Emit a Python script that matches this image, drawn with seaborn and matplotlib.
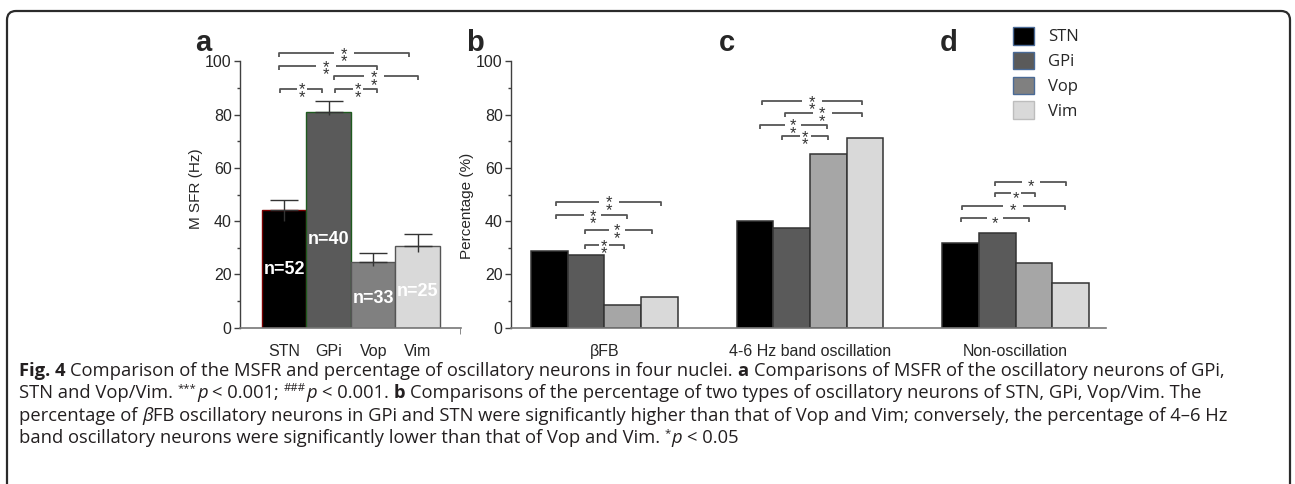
import numpy as np
import pandas as pd
import matplotlib
matplotlib.use('Agg')
import matplotlib.pyplot as plt
import seaborn as sns
from matplotlib.patches import Patch, FancyBboxPatch
from matplotlib.transforms import IdentityTransform

# data
nuclei = ['STN', 'GPi', 'Vop', 'Vim']
msfr = [44.1, 81.0, 24.5, 30.7]
msfr_err_hi = [4.0, 4.0, 3.7, 4.4]
msfr_err_lo = [4.0, 1.0, 1.2, 2.3]
n_cells = [52, 40, 33, 25]

groups = ['βFB', '4-6 Hz band oscillation', 'Non-oscillation']
pct_bfb = [28.7, 27.3, 8.6, 11.4]
pct_46hz = [39.9, 37.4, 65.2, 71.1]
pct_non = [31.7, 35.4, 24.2, 16.9]

# significance brackets: (from bar, to bar, star x, y, n stars)
sig_a = [(-0.11, 2.80, 1.35, 103.2, 2), (-0.11, 2.08, 0.93, 98.3, 2),
         (1.11, 3.00, 2.01, 94.4, 2), (-0.09, 0.84, 0.41, 89.8, 2),
         (1.13, 2.08, 1.65, 89.8, 2)]
# (group, from bar, to bar, star x, y, n stars) - bar units inside the group
sig_bd = [(0, 0.17, 3.05, 1.62, 47.3, 2), (0, 0.19, 2.12, 1.19, 42.3, 2),
          (0, 0.98, 2.79, 1.84, 36.7, 2), (0, 0.98, 2.03, 1.49, 31.0, 2),
          (1, 0.18, 2.92, 1.55, 85.1, 2), (1, 0.83, 2.92, 1.84, 80.8, 2),
          (1, 0.13, 1.97, 1.04, 76.2, 2), (1, 0.74, 1.99, 1.37, 72.0, 2),
          (2, 0.93, 2.88, 1.92, 54.8, 1), (2, 0.93, 2.03, 1.50, 50.4, 1),
          (2, 0.03, 2.86, 1.43, 45.8, 1), (2, 0.02, 1.87, 0.93, 41.2, 1)]

n_label_y = [22, 33, 11, 13.7]

# caption runs: (text, style, space after)
caption = [
    [('Fig. 4', 'b', True),
     ('Comparison of the MSFR and percentage of oscillatory neurons in four nuclei.', 'n', True),
     ('a', 'b', True),
     ('Comparisons of MSFR of the oscillatory neurons of GPi,', 'n', False)],
    [('STN and Vop/Vim.', 'n', True), ('***', 'sup', False), ('p', 'i', True),
     ('< 0.001;', 'n', True), ('###', 'sup', False), ('p', 'i', True),
     ('< 0.001.', 'n', True), ('b', 'b', True),
     ('Comparisons of the percentage of two types of oscillatory neurons of STN, GPi, Vop/Vim. The', 'n', False)],
    [('percentage of', 'n', True), ('β', 'i', False),
     ('FB oscillatory neurons in GPi and STN were significantly higher than that of Vop and Vim; conversely, the percentage of 4–6 Hz', 'n', False)],
    [('band oscillatory neurons were significantly lower than that of Vop and Vim.', 'n', True),
     ('*', 'sup', False), ('p', 'i', True), ('< 0.05', 'n', False)],
]

colors_a = ['#000000', '#5a5a5a', '#808080', '#d9d9d9']
edges_a = ['#7a0000', '#1f5a1f', '#555555', '#555555']
colors_bd = ['#000000', '#5a5a5a', '#a6a6a6', '#d9d9d9']
legend_colors = ['#000000', '#5a5a5a', '#808080', '#d9d9d9']
legend_edges = ['#4a6a96', '#4a6a96', '#4a6a96', '#bdbdbd']

sns.set_style('white')
plt.rcParams['font.family'] = ['Liberation Sans', 'DejaVu Sans']

W, H = 1295, 484
fig = plt.figure(figsize=(W / 100, H / 100), dpi=100)

y0_px, y100_px = 327.6, 61.5
bottom = (H - y0_px) / H
height = (y0_px - y100_px) / H
ax_a = fig.add_axes([240 / W, bottom, 221 / W, height])
ax_b = fig.add_axes([511 / W, bottom, 594.7 / W, height])

line_c = '#555555'

# ---- panel a ----
sns.barplot(x=nuclei, y=msfr, hue=nuclei, palette=colors_a, width=1,
            legend=False, linewidth=1, ax=ax_a)
for cont, ec in zip(ax_a.containers, edges_a):
    for p in cont:
        p.set_edgecolor(ec)
xs = np.arange(len(nuclei))
ax_a.errorbar(xs, msfr, yerr=[np.zeros(4), msfr_err_hi], fmt='none',
              ecolor='#333333', elinewidth=1, capsize=10, capthick=1)
ax_a.errorbar(xs, msfr, yerr=[msfr_err_lo, np.zeros(4)], fmt='none',
              ecolor='#333333', elinewidth=1, capsize=0)
for i, (n, yy) in enumerate(zip(n_cells, n_label_y)):
    ax_a.text(i, yy, f'n={n}', color='white', ha='center', va='center',
              fontsize=13, fontweight='bold')
ax_a.set_xlim(-0.994, 3.972)
ax_a.set_xticks([3.96], minor=True)
ax_a.tick_params(axis='x', which='minor', bottom=True, length=4,
                 color='#777777')
ax_a.set_ylabel('M SFR (Hz)', fontsize=11)
ax_a.yaxis.set_label_coords(-0.167, 0.523)

# ---- panels b-d ----
df = pd.DataFrame({'group': np.repeat(groups, 4),
                   'nucleus': nuclei * 3,
                   'pct': pct_bfb + pct_46hz + pct_non})
bar_w = 0.713
sns.barplot(data=df, x='group', y='pct', hue='nucleus', palette=colors_bd,
            width=bar_w, edgecolor='#333333', linewidth=1.1, legend=False,
            ax=ax_b)
ax_b.set_xlim(-0.4536, 2.438)
ax_b.set_ylabel('Percentage (%)', fontsize=11)
ax_b.yaxis.set_label_coords(-0.0622, 0.458)

for ax in (ax_a, ax_b):
    ax.set_xlabel('')
    ax.set_ylim(0, 100)
    ax.set_yticks(np.arange(0, 101, 20))
    ax.set_yticks(np.arange(10, 100, 20), minor=True)
    ax.tick_params(axis='y', which='major', left=True, length=4, width=1,
                   color='#404040', labelsize=11.5, pad=2)
    ax.tick_params(axis='y', which='minor', left=True, length=2.5, width=1,
                   color='#404040')
    ax.tick_params(axis='x', which='major', length=0, pad=12, labelsize=11.5)
    for s in ('top', 'right'):
        ax.spines[s].set_visible(False)
    ax.spines['left'].set_color('#404040')
    ax.spines['bottom'].set_color('#777777')
    ax.spines['left'].set_linewidth(1)
    ax.spines['bottom'].set_linewidth(1.2)

star_fs = 12
star_px = star_fs * 100 / 72


def bracket(ax, x1, x2, xs_, y, nstar, ppu):
    tick = 4 / 2.66
    length_px = (x2 - x1) * ppu
    gap = min(10, max(5, 0.12 * length_px)) / ppu
    kw = dict(color=line_c, lw=1.3, clip_on=False, solid_capstyle='butt')
    ax.plot([x1, x1, xs_ - gap], [y - tick, y, y], **kw)
    ax.plot([xs_ + gap, x2, x2], [y, y, y - tick], **kw)
    # bottom star a little below the line, second one stacked above
    drop = 0 if nstar == 1 else 3.8
    ax.annotate('\n'.join(['*'] * nstar), xy=(xs_, y),
                xytext=(0, -drop - 0.58 * star_px),
                textcoords='offset pixels', ha='center', va='baseline',
                fontsize=star_fs, linespacing=0.4, color='#333333',
                annotation_clip=False)


for x1, x2, xs_, y, ns in sig_a:
    bracket(ax_a, x1, x2, xs_, y, ns, 44.5)

bw = bar_w / 4
for g, u1, u2, us, y, ns in sig_bd:
    conv = lambda u: g + (u - 1.5) * bw
    bracket(ax_b, conv(u1), conv(u2), conv(us), y, ns, 205.7)

# panel letters
for lab, xp in zip('abcd', [195, 466, 719, 940]):
    fig.text(xp / W, 1 - 51 / H, lab, fontsize=21, fontweight='bold',
             va='baseline', ha='left')

# legend
handles = [Patch(facecolor=c, edgecolor=e, linewidth=1)
           for c, e in zip(legend_colors, legend_edges)]
fig.legend(handles, nuclei, loc='upper left',
           bbox_to_anchor=(1013 / W, 1 - 27 / H), frameon=False,
           handlelength=1.25, handleheight=1.25, labelspacing=0.38,
           handletextpad=0.85, borderpad=0, borderaxespad=0,
           prop={'family': 'Open Sans', 'size': 12})

# caption, written run by run so bold / italic / superscript parts line up
cap_fs = 13.25
cap_px = cap_fs * 100 / 72
cap_c = '#231f20'
rend = fig.canvas.get_renderer()
probe1 = fig.text(0, 0, 'x x', family='Open Sans', fontsize=cap_fs)
probe2 = fig.text(0, 0, 'xx', family='Open Sans', fontsize=cap_fs)
space_px = (probe1.get_window_extent(rend).width
            - probe2.get_window_extent(rend).width)
probe1.remove()
probe2.remove()

for i, runs in enumerate(caption):
    base = 376 + 22.4 * i
    x = 19
    for s, kind, sp in runs:
        kw = dict(family='Open Sans', color=cap_c, fontsize=cap_fs,
                  va='baseline', ha='left')
        lift = 0
        if kind == 'b':
            kw['fontweight'] = 'bold'
        elif kind == 'i':
            kw['style'] = 'italic'
        elif kind == 'sup':
            kw['fontsize'] = cap_fs * 0.62
            lift = 0.4 * cap_px
        t = fig.text(x / W, (H - base + lift) / H, s, **kw)
        x += t.get_window_extent(rend).width + (space_px if sp else 0.5)

# outer rounded frame
frame = FancyBboxPatch((7, -30), 1283, H - 11 + 30,
                       boxstyle='round,pad=0,rounding_size=9',
                       transform=IdentityTransform(), facecolor='none',
                       edgecolor='#2b2b2b', linewidth=1.6)
fig.patches.append(frame)

fig.savefig('out.png', dpi=100)
